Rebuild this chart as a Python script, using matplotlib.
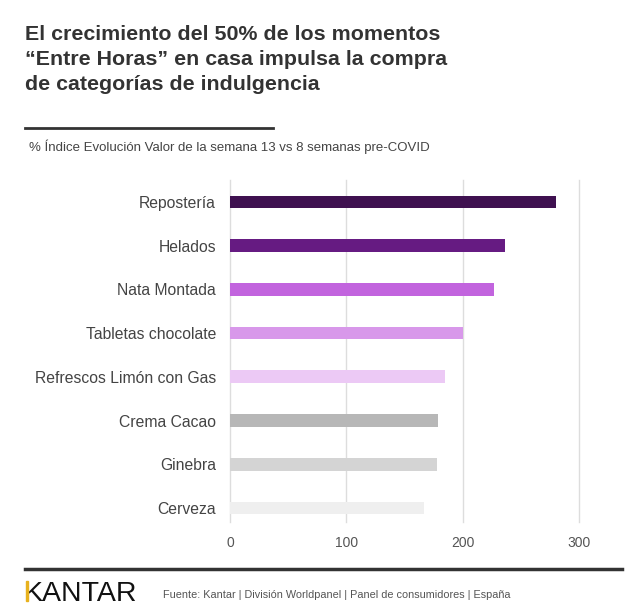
import matplotlib.pyplot as plt
from matplotlib.patches import Rectangle

plt.rcParams['font.family'] = ['Liberation Sans', 'DejaVu Sans']

# data
categories = ["Repostería", "Helados", "Nata Montada", "Tabletas chocolate",
              "Refrescos Limón con Gas", "Crema Cacao", "Ginebra", "Cerveza"]
values = [280, 236, 227, 200, 185, 179, 178, 167]
colors = ["#3f1150", "#661b82", "#c264de", "#d898ea",
          "#ecc9f5", "#b7b7b7", "#d4d4d4", "#efefef"]
xticks = [0, 100, 200, 300]

title_lines = ["El crecimiento del 50% de los momentos",
               "\u201cEntre Horas\u201d en casa impulsa la compra",
               "de categorías de indulgencia"]
subtitle = "% Índice Evolución Valor de la semana 13 vs 8 semanas pre-COVID"
source = "Fuente: Kantar | División Worldpanel | Panel de consumidores | España"

W, H = 640, 614
fig = plt.figure(figsize=(W / 100, H / 100), dpi=100)
fig.patch.set_facecolor("white")

# axes box in pixels: x 230..579 (0..300), y 180..522
ax = fig.add_axes([230 / W, 1 - 522 / H, (579.3 - 230) / W, (522 - 180) / H])
ypos = list(range(len(categories)))
ax.barh(ypos, values, height=0.29, color=colors, zorder=3)
ax.set_xlim(0, 300)
ax.set_ylim(7.32, -0.5)
ax.set_yticks(ypos)
ax.set_yticklabels(categories, fontsize=11.3, color="#444444")
ax.set_xticks(xticks)
ax.set_xticklabels([str(t) for t in xticks], fontsize=10, color="#555555")
ax.tick_params(axis="both", length=0)
ax.tick_params(axis="y", pad=10)
ax.tick_params(axis="x", pad=10)
ax.grid(axis="x", color="#dddddd", linewidth=1, zorder=0)
for s in ax.spines.values():
    s.set_visible(False)
for gl in ax.get_xgridlines():
    gl.set_clip_on(False)

# title block
for i, line in enumerate(title_lines):
    fig.text(25 / W, 1 - (40 + 25 * i) / H, line, fontsize=15.4,
             fontweight="bold", color="#333333", va="baseline", ha="left")
fig.add_artist(plt.Line2D([25 / W, 273 / W], [1 - 128 / H, 1 - 128 / H],
                          color="#333333", linewidth=2))
fig.text(29 / W, 1 - 147 / H, subtitle, fontsize=9.5, color="#444444",
         va="center", ha="left")

# footer
fig.add_artist(plt.Line2D([25 / W, 622 / W], [1 - 569 / H, 1 - 569 / H],
                          color="#333333", linewidth=2.5))
fig.text(23.5 / W, 1 - 601 / H, "KANTAR", fontsize=20.5, color="#111111",
         va="baseline", ha="left")
fig.add_artist(Rectangle((25.5 / W, 1 - 601 / H), 2.5 / W, 20.5 / H,
                         transform=fig.transFigure, color="#e8b21e", zorder=5))
fig.text(163 / W, 1 - 595 / H, source, fontsize=7.8, color="#555555",
         va="center", ha="left")

fig.savefig("out.png", dpi=100, facecolor="white")
